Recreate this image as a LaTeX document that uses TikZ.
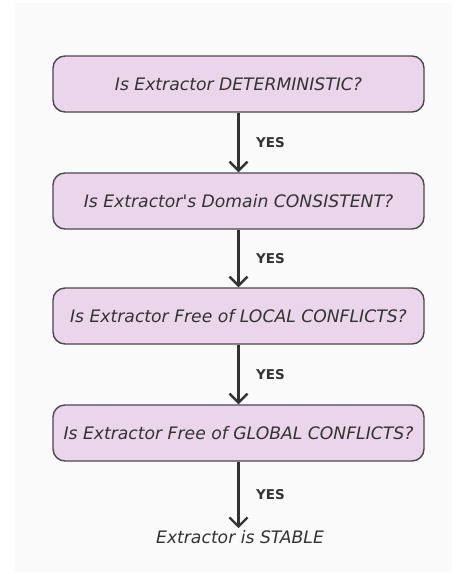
\documentclass[tikz,border=0pt]{standalone}
\usepackage{fontspec}
\setmainfont{DejaVu Sans}
\usetikzlibrary{arrows.meta}
\definecolor{boxfill}{HTML}{EAD5EA}
\definecolor{boxdraw}{HTML}{4A4A4A}
\definecolor{txt}{HTML}{333333}
\definecolor{arr}{HTML}{333333}
\definecolor{panel}{HTML}{FBFAFB}
\begin{document}
\begin{tikzpicture}[x=1pt,y=-1pt,
  qbox/.style={draw=boxdraw, line width=1.4pt, fill=boxfill, rounded corners=12pt,
    minimum width=371pt, minimum height=56pt, inner sep=0pt,
    font=\fontsize{17.2}{20}\selectfont\itshape, text=txt},
  yeslab/.style={font=\fontsize{13.5}{16}\selectfont\bfseries, text=arr, anchor=west},
  flow/.style={draw=arr, line width=2.4pt, -{Straight Barb[length=9pt,width=18pt,line width=2.4pt]}}
]
\useasboundingbox (0,0) rectangle (462,574);
\fill[white] (0,0) rectangle (462,574);
\fill[panel] (15,3) rectangle (452,572);
\node[qbox] (q1) at (238.5,84) {Is Extractor DETERMINISTIC?};
\node[qbox] (q2) at (238.5,201) {Is Extractor\textquotesingle s Domain CONSISTENT?};
\node[qbox] (q3) at (238.5,316) {Is Extractor Free of LOCAL CONFLICTS?};
\node[qbox] (q4) at (238.5,433) {Is Extractor Free of GLOBAL CONFLICTS?};
\node[font=\fontsize{17.2}{20}\selectfont\itshape, text=txt, inner sep=2pt] (st) at (240,537) {Extractor is STABLE};
\draw[flow] (q1.south) -- (q2.north) node[pos=0.5, yeslab, xshift=13pt] {YES};
\draw[flow] (q2.south) -- (q3.north) node[pos=0.5, yeslab, xshift=13pt] {YES};
\draw[flow] (q3.south) -- (q4.north) node[pos=0.5, yeslab, xshift=13pt] {YES};
\draw[flow] (q4.south) -- (q4.south |- st.north) node[pos=0.5, yeslab, xshift=13pt] {YES};
\end{tikzpicture}
\end{document}
